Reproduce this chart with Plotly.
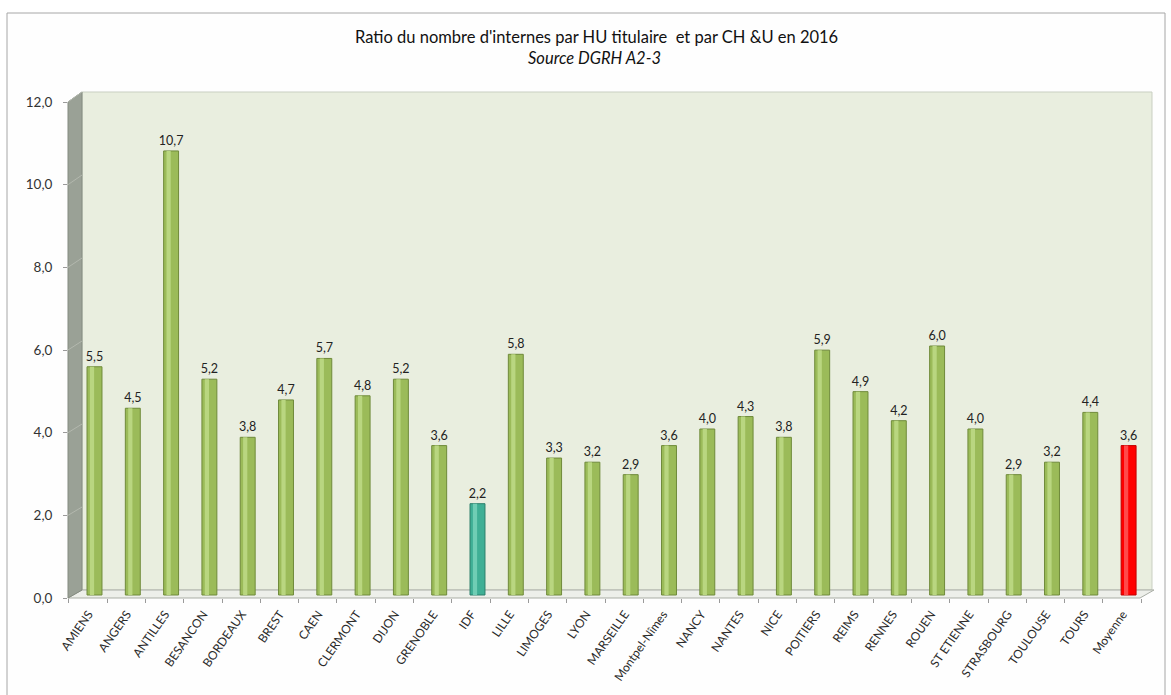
import plotly.graph_objects as go

categories = ["AMIENS", "ANGERS", "ANTILLES", "BESANCON", "BORDEAUX", "BREST", "CAEN",
              "CLERMONT", "DIJON", "GRENOBLE", "IDF", "LILLE", "LIMOGES", "LYON",
              "MARSEILLE", "Montpel-Nîmes", "NANCY", "NANTES", "NICE", "POITIERS",
              "REIMS", "RENNES", "ROUEN", "ST ETIENNE", "STRASBOURG", "TOULOUSE",
              "TOURS", "Moyenne"]
ratios = [5.5, 4.5, 10.7, 5.2, 3.8, 4.7, 5.7, 4.8, 5.2, 3.6, 2.2, 5.8, 3.3, 3.2,
          2.9, 3.6, 4.0, 4.3, 3.8, 5.9, 4.9, 4.2, 6.0, 4.0, 2.9, 3.2, 4.4, 3.6]
y_ticks = [0, 2, 4, 6, 8, 10, 12]
y_tick_labels = ["0,0", "2,0", "4,0", "6,0", "8,0", "10,0", "12,0"]
title_text = "Ratio du nombre d'internes par HU titulaire  et par CH &U en 2016"
subtitle_text = "Source DGRH A2-3"

GREEN, GREEN_HI, GREEN_EDGE = "#9BBB59", "#B9D680", "#6F8A3A"
TEAL, TEAL_HI, TEAL_EDGE = "#3FAF95", "#70CDB4", "#2B7F6B"
RED, RED_HI, RED_EDGE = "#FF0000", "#FF4A4A", "#C00000"

def style(cat):
    if cat == "IDF":
        return TEAL, TEAL_HI, TEAL_EDGE
    if cat == "Moyenne":
        return RED, RED_HI, RED_EDGE
    return GREEN, GREEN_HI, GREEN_EDGE

fill = [style(c)[0] for c in categories]
hi = [style(c)[1] for c in categories]
edge = [style(c)[2] for c in categories]

W, H = 1171, 695
X0, X1, YT, YB = 68, 1154, 92, 598
PW, PH = X1 - X0, YB - YT

def px(x):
    return (x - X0) / PW

def py(y):
    return (YB - y) / PH

fig = go.Figure()

fig.add_trace(go.Bar(
    x=categories, y=ratios, width=0.39,
    marker=dict(color=fill, line=dict(color=edge, width=1)),
    texttemplate="%{y:.1f}", textposition="outside", cliponaxis=False,
    constraintext="none",
    textfont=dict(family="Lato", size=12.5, color="#222222"),
    hoverinfo="x+y", xaxis="x", yaxis="y", showlegend=False,
))
fig.add_trace(go.Bar(
    x=categories, y=ratios, width=0.11, offset=-0.12,
    marker=dict(color=hi, line=dict(width=0)),
    hoverinfo="skip", xaxis="x", yaxis="y", showlegend=False,
))
fig.add_trace(go.Scatter(
    x=categories, y=[0] * len(categories), mode="markers",
    marker=dict(opacity=0), hoverinfo="skip", xaxis="x2", yaxis="y3",
    showlegend=False,
))

bar_unit = 41.5
y_bar_range = [-(YB - 595) / bar_unit, (595 - YT) / bar_unit]
y_grid_range = [-(YB - 590) / bar_unit, (590 - YT) / bar_unit]
front_unit = (598 - 102) / 12
y_front_range = [0, (598 - YT) / front_unit]

cat_px = 38.3
x_bar_range = [-(94.5 - X0) / cat_px, (X1 - 94.5) / cat_px]
x_front_range = [-(88 - X0) / cat_px, (X1 - 88) / cat_px]

shapes = [
    dict(type="rect", xref="paper", yref="paper", x0=px(7), x1=px(1165),
         y0=py(700), y1=py(13), line=dict(color="#A6A6A6", width=1),
         fillcolor="#FEFEFE", layer="below"),
    dict(type="rect", xref="paper", yref="paper", x0=px(82), x1=px(1152),
         y0=py(590), y1=py(92), line=dict(color="#C9CFC2", width=1),
         fillcolor="#E9EEDF", layer="below"),
    dict(type="path", xref="paper", yref="paper",
         path=f"M {px(68)},{py(598)} L {px(82)},{py(590)} L {px(1154)},{py(590)} L {px(1140)},{py(598)} Z",
         fillcolor="#EDEFEA", line=dict(color="#A9ADA5", width=1), layer="below"),
    dict(type="path", xref="paper", yref="paper",
         path=f"M {px(68)},{py(102)} L {px(82)},{py(92)} L {px(82)},{py(590)} L {px(68)},{py(598)} Z",
         fillcolor="#9AA196", line=dict(color="#848B80", width=1), layer="above"),
]
for v in y_ticks[1:]:
    yf = 598 - v * front_unit
    yb = 590 - v * bar_unit
    shapes.append(dict(type="line", xref="paper", yref="paper",
                       x0=px(68), y0=py(yf), x1=px(82), y1=py(yb),
                       line=dict(color="#B3B8AE", width=1), layer="above"))

fig.update_layout(
    template="none",
    width=W, height=H,
    margin=dict(l=X0, r=W - X1, t=YT, b=H - YB, pad=0, autoexpand=False),
    paper_bgcolor="#FFFFFF", plot_bgcolor="rgba(0,0,0,0)",
    separators=", ",
    barmode="overlay",
    font=dict(family="Lato", size=11, color="#333333"),
    shapes=shapes,
    xaxis=dict(type="category", categoryorder="array", categoryarray=categories,
               range=x_bar_range, showgrid=False, showticklabels=True,
               automargin=False,
               tickangle=-55, ticklabelshift=-6, ticklabelstandoff=6,
               tickfont=dict(family="Lato", size=12, color="#2A2A2A"),
               ticks="", showline=False, zeroline=False, fixedrange=True),
    xaxis2=dict(type="category", categoryorder="array", categoryarray=categories,
                overlaying="x", anchor="y3", side="bottom", range=x_front_range,
                showgrid=False, showline=False, zeroline=False, automargin=False,
                showticklabels=False,
                ticks="outside", tickson="boundaries", ticklen=4,
                tickcolor="#9A9A9A"),
    yaxis=dict(range=y_bar_range, visible=False, fixedrange=True, automargin=False),
    yaxis2=dict(overlaying="y", range=y_grid_range, tickvals=y_ticks[1:],
                showgrid=True, gridcolor="#7E8A78", gridwidth=1, automargin=False,
                showticklabels=False, ticks="", zeroline=False, showline=False),
    yaxis3=dict(overlaying="y", anchor="x2", side="left", range=y_front_range,
                tickvals=y_ticks, ticktext=y_tick_labels, showgrid=False,
                zeroline=False, showline=False, ticks="outside", ticklen=4,
                tickcolor="#9A9A9A", ticklabelstandoff=8, automargin=False,
                tickfont=dict(family="Lato", size=13.5, color="#333333")),
    annotations=[
        dict(text=title_text, xref="paper", yref="paper", x=px(596), y=py(37),
             showarrow=False, xanchor="center", yanchor="middle",
             font=dict(family="Lato", size=16.5, color="#111111")),
        dict(text="<i>" + subtitle_text + "</i>", xref="paper", yref="paper",
             x=px(594), y=py(58), showarrow=False, xanchor="center",
             yanchor="middle", font=dict(family="Lato", size=16.5, color="#111111")),
    ],
)

fig.write_html("out.html", config={"displayModeBar": False},
               post_script="document.body.style.margin='0';document.body.style.overflow='hidden';")
